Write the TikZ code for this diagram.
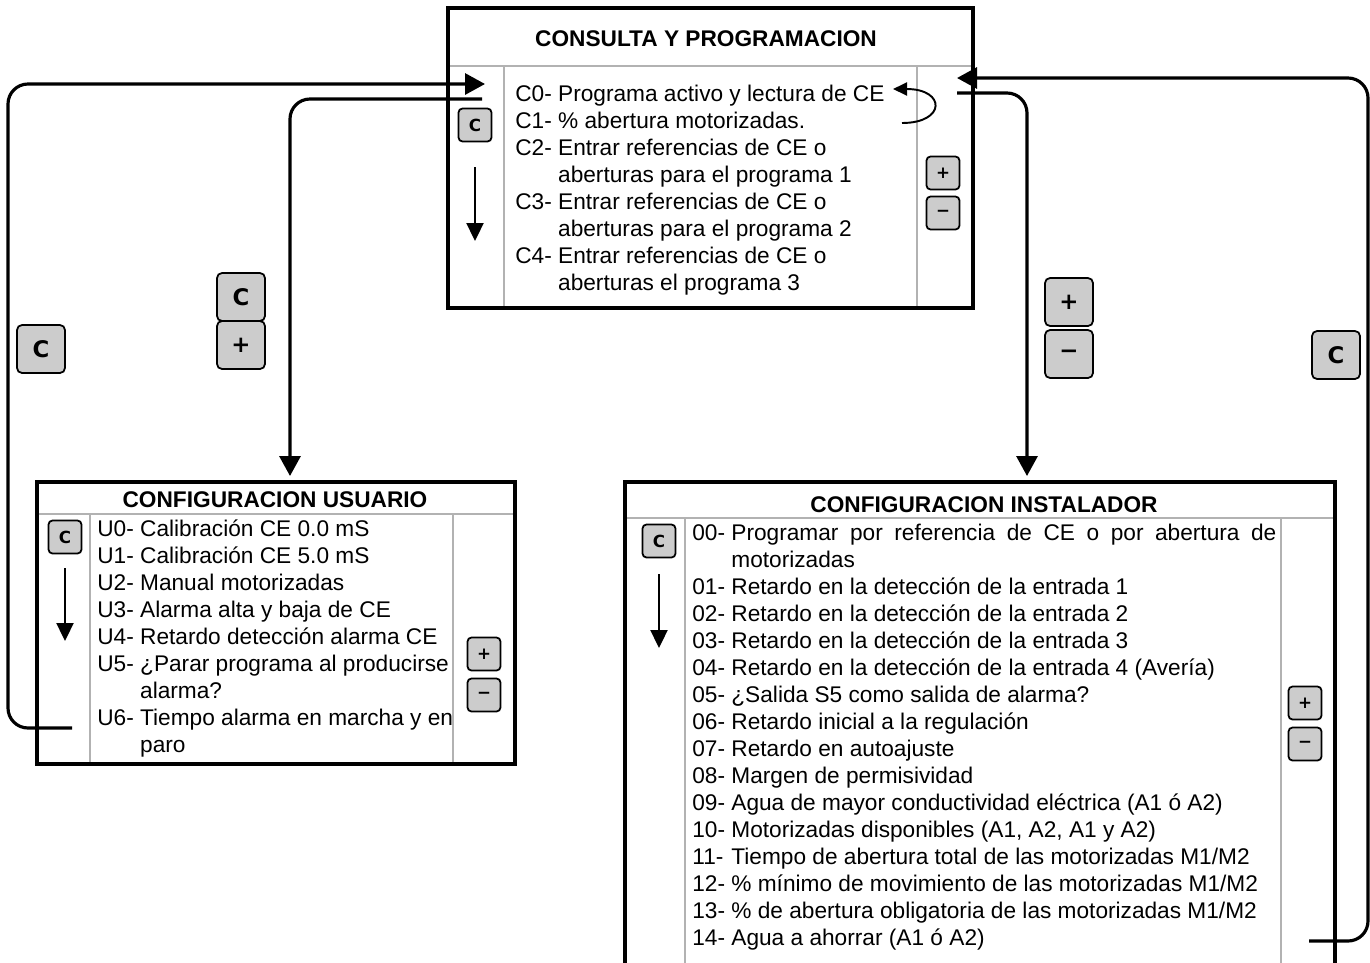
\documentclass[tikz,border=0pt]{standalone}
\usepackage{fontspec}
\setmainfont{Liberation Sans}
\newfontfamily\keyfont{DejaVu Sans}
\usetikzlibrary{arrows.meta}
\newcommand{\listfont}{\fontsize{12.9}{15.37}\selectfont}

\begin{document}
\begin{tikzpicture}[x=0.2mm, y=-0.2mm,
        panel/.style={line width=1.8pt},
        sep/.style={gray!60, line width=0.6pt},
        title/.style={font=\listfont\bfseries, inner sep=0pt, anchor=base},
        items/.style={font=\listfont, inner sep=0pt, anchor=base west},
        key/.style={draw, fill=black!20, rounded corners=0.8mm, line width=1pt, minimum width=6.6mm, minimum height=6.6mm, inner sep=0pt, font=\keyfont\bfseries\fontsize{9.5}{9.5}\selectfont},
        bigkey/.style={key, minimum width=9.6mm, minimum height=9.6mm, rounded corners=1mm, font=\keyfont\bfseries\fontsize{13}{13}\selectfont},
        link/.style={line width=1.8pt, rounded corners=4mm, -{Triangle[length=4mm, width=4.2mm]}},
        down/.style={line width=1.3pt, -{Triangle[length=3.6mm, width=3.4mm]}},
        cycleback/.style={line width=1.1pt, -{Triangle[length=2.8mm, width=2.6mm]}}]
        \useasboundingbox (0,0) rectangle (1370,962);
        \clip (0,0) rectangle (1370,962);
        %\draw[step=50, gray, very thin] (0,0) grid (1370,962);

        % consulta y programacion
        \draw[sep] (448,66) -- (973,66) (504,66) -- (504,308) (917,66) -- (917,308);
        \draw[panel] (448,8) rectangle (973,308);
        \node[title] (ctitle) at (706,46) {CONSULTA Y PROGRAMACION};
        \node[items] (clist) at (515,101) {\begin{tabular}[t]{@{}l@{ }l@{}}
            C0- & Programa activo y lectura de CE\\
            C1- & \% abertura motorizadas.\\
            C2- & Entrar referencias de CE o\\
                & aberturas para el programa 1\\
            C3- & Entrar referencias de CE o\\
                & aberturas para el programa 2\\
            C4- & Entrar referencias de CE o\\
                & aberturas el programa 3
        \end{tabular}};

        % configuracion usuario
        \draw[sep] (37,514) -- (515,514) (90,514) -- (90,764) (453,514) -- (453,764);
        \draw[panel] (37,482) rectangle (515,764);
        \node[title] (utitle) at (275,507) {CONFIGURACION USUARIO};
        \node[items] (ulist) at (97,536) {\begin{tabular}[t]{@{}l@{ }l@{}}
            U0- & Calibración CE 0.0 mS\\
            U1- & Calibración CE 5.0 mS\\
            U2- & Manual motorizadas\\
            U3- & Alarma alta y baja de CE\\
            U4- & Retardo detección alarma CE\\
            U5- & ¿Parar programa al producirse\\
                & alarma?\\
            U6- & Tiempo alarma en marcha y en\\
                & paro
        \end{tabular}};

        % configuracion instalador
        \draw[sep] (625,518) -- (1335,518) (685,518) -- (685,1000) (1281,518) -- (1281,1000);
        \draw[panel] (625,482) rectangle (1335,1000);
        \node[title] (ititle) at (984,512) {CONFIGURACION INSTALADOR};
        \node[items] (ilist) at (692,540) {\begin{tabular}[t]{@{}l@{ }p{109mm}@{}}
            00- & Programar por referencia de CE o por abertura de\linebreak motorizadas\\
            01- & Retardo en la detección de la entrada 1\\
            02- & Retardo en la detección de la entrada 2\\
            03- & Retardo en la detección de la entrada 3\\
            04- & Retardo en la detección de la entrada 4 (Avería)\\
            05- & ¿Salida S5 como salida de alarma?\\
            06- & Retardo inicial a la regulación\\
            07- & Retardo en autoajuste\\
            08- & Margen de permisividad\\
            09- & Agua de mayor conductividad eléctrica (A1 ó A2)\\
            10- & Motorizadas disponibles (A1, A2, A1 y A2)\\
            11- & Tiempo de abertura total de las motorizadas M1/M2\\
            12- & \% mínimo de movimiento de las motorizadas M1/M2\\
            13- & \% de abertura obligatoria de las motorizadas M1/M2\\
            14- & Agua a ahorrar (A1 ó A2)
        \end{tabular}};

        % ends of the connectors
        \coordinate (cinL) at (485,84);
        \coordinate (coutL) at (482,99);
        \coordinate (cinR) at (957,78);
        \coordinate (coutR) at (957,93);
        \coordinate (uin) at (290,476);
        \coordinate (uout) at (72,728);
        \coordinate (iin) at (1027,476);
        \coordinate (iout) at (1309,941);
        \coordinate (c1end) at (902,123);
        \coordinate (c0end) at (893,89);

        \draw[link] (uout) -- ++(-64,0) |- (cinL);
        \draw[link] (coutL) -| (uin);
        \draw[link] (coutR) -| (iin);
        \draw[link] (iout) -- ++(59,0) |- (cinR);
        \draw[cycleback] (c1end) .. controls (946,123) and (946,89) .. (c0end);

        \draw[down] (475,167) -- (475,241);
        \draw[down] (65,568) -- (65,641);
        \draw[down] (659,574) -- (659,648);

        % keys
        \node[key] (ckeyC) at (475,125) {C};
        \node[key] (pkeyC) at (943,173) {+};
        \node[key] (mkeyC) at (943,213) {−};
        \node[key] (ckeyU) at (65,537) {C};
        \node[key] (pkeyU) at (484,654) {+};
        \node[key] (mkeyU) at (484,695) {−};
        \node[key] (ckeyI) at (659,541) {C};
        \node[key] (pkeyI) at (1305,703) {+};
        \node[key] (mkeyI) at (1305,744) {−};
        \node[bigkey] (ckeyL) at (41,349) {C};
        \node[bigkey] (ckeyUp) at (241,297) {C};
        \node[bigkey] (pkeyUp) at (241,345) {+};
        \node[bigkey] (pkeyIn) at (1069,302) {+};
        \node[bigkey] (mkeyIn) at (1069,354) {−};
        \node[bigkey] (ckeyR) at (1336,355) {C};
\end{tikzpicture}
\end{document}
